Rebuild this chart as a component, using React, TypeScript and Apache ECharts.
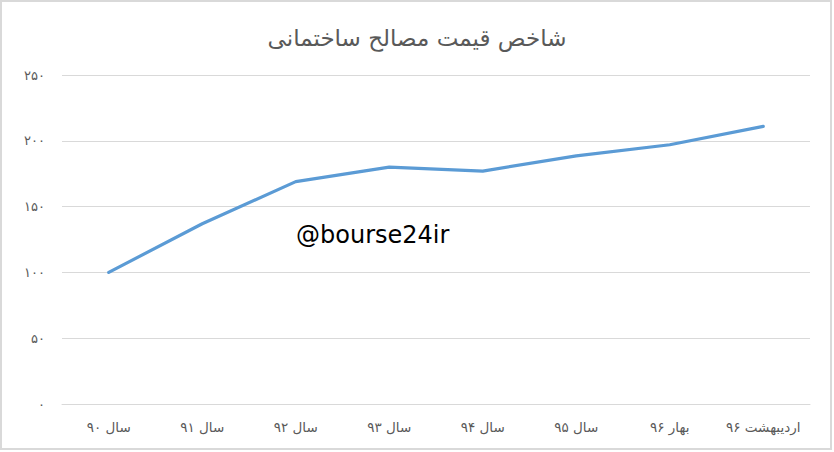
import React, { useEffect, useRef } from "react";
import * as echarts from "echarts";

const title = "شاخص قیمت مصالح ساختمانی";
const categories = ["سال ۹۰", "سال ۹۱", "سال ۹۲", "سال ۹۳", "سال ۹۴", "سال ۹۵", "بهار ۹۶", "اردیبهشت ۹۶"];
const values = [100, 137, 169, 180, 177, 188.5, 197, 211];
const watermark = "@bourse24ir";

const toPersian = (n: number) =>
  String(n).replace(/[0-9]/g, (d) => "۰۱۲۳۴۵۶۷۸۹"[Number(d)]);

export default function App() {
  const ref = useRef<HTMLDivElement>(null);
  useEffect(() => {
    document.body.style.margin = "0";
    const chart = echarts.init(ref.current!, undefined, { renderer: "svg" });
    chart.setOption({
      animation: false,
      backgroundColor: "#ffffff",
      title: {
        text: title,
        left: "center",
        top: 21,
        textStyle: { fontFamily: "DejaVu Sans", fontSize: 23, fontWeight: "normal", color: "#595959" },
      },
      grid: { left: 62, right: 24, top: 75, bottom: 48 },
      xAxis: {
        type: "category",
        data: categories,
        boundaryGap: true,
        axisLine: { lineStyle: { color: "#D9D9D9" } },
        axisTick: { show: false },
        axisLabel: { color: "#595959", fontFamily: "DejaVu Sans", fontSize: 13.5, margin: 16, interval: 0 },
      },
      yAxis: {
        type: "value",
        min: 0,
        max: 250,
        interval: 50,
        axisLine: { show: false },
        axisTick: { show: false },
        splitLine: { lineStyle: { color: "#D9D9D9" } },
        axisLabel: {
          color: "#595959",
          fontFamily: "DejaVu Sans",
          fontSize: 13,
          margin: 17,
          formatter: (v: number) => toPersian(v),
        },
      },
      series: [
        {
          type: "line",
          data: values,
          symbol: "none",
          lineStyle: { color: "#5B9BD5", width: 3.2, cap: "round" },
        },
      ],
      graphic: [
        {
          type: "rect",
          shape: { x: 1, y: 1, width: 830, height: 448 },
          style: { fill: "none", stroke: "#D9D9D9", lineWidth: 2 },
          silent: true,
        },
        {
          type: "text",
          left: 296,
          top: 223,
          style: { text: watermark, fontFamily: "DejaVu Sans", fontSize: 24, fill: "#000000" },
        },
      ],
    });
    return () => chart.dispose();
  }, []);
  return <div ref={ref} style={{ width: 834, height: 452 }} />;
}
